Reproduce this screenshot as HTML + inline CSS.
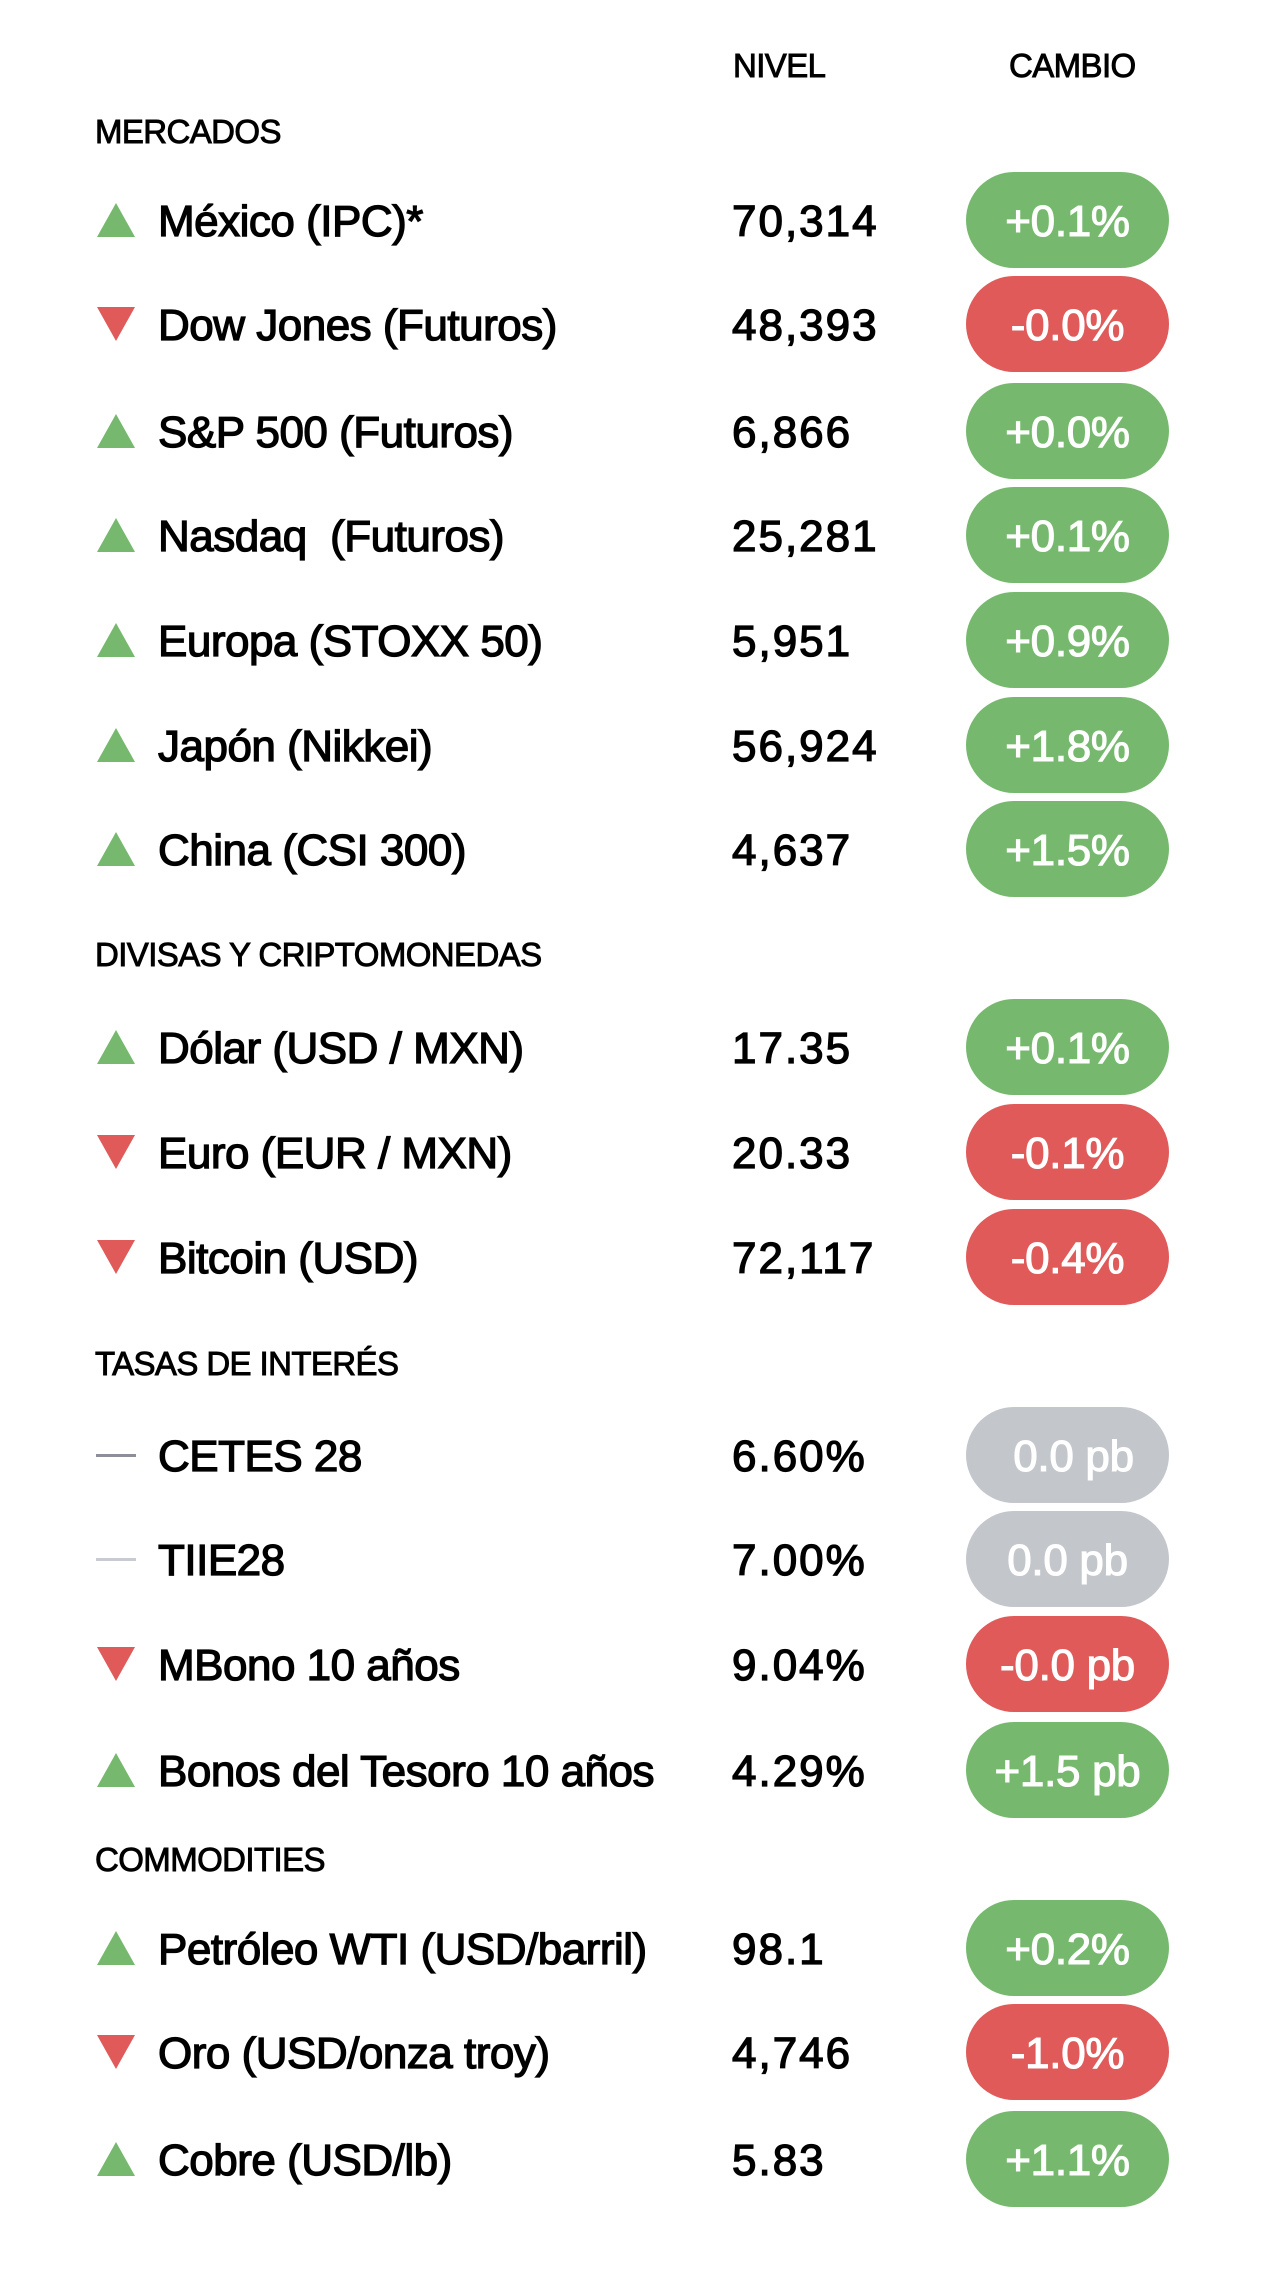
<!DOCTYPE html>
<html><head><meta charset="utf-8"><style>
body{margin:0;width:1280px;height:2281px;background:#fff;position:relative;font-family:"Liberation Sans",sans-serif;color:#000;overflow:hidden}
.t{position:absolute;white-space:nowrap;line-height:1}
.h{font-size:33px;letter-spacing:-0.6px;-webkit-text-stroke:0.9px #000}
.n{font-size:44px;left:158px;letter-spacing:-0.5px;-webkit-text-stroke:1.3px #000}
.v{font-size:44px;left:732px;letter-spacing:2px;-webkit-text-stroke:1.3px #000}
.p{position:absolute;left:966px;width:203px;height:96px;border-radius:48px;color:#fff;font-size:44px;line-height:100px;text-align:center;letter-spacing:-0.3px;-webkit-text-stroke:1.1px #fff}
.g{background:#76b96e}.r{background:#e05a5a}.y{background:#c3c7cc}
.up,.dn{position:absolute;left:97px;width:0;height:0;border-left:19px solid transparent;border-right:19px solid transparent}
.up{border-bottom:34px solid #76b96e}.dn{border-top:34px solid #e05a5a}
.d{position:absolute;left:96px;width:40px;height:3px}
</style></head><body>
<div class="t h" style="left:733px;top:49px">NIVEL</div>
<div class="t h" style="left:1009px;top:49px">CAMBIO</div>
<div class="t h" style="left:95px;top:115px">MERCADOS</div>
<div class="t h" style="left:95px;top:938px">DIVISAS Y CRIPTOMONEDAS</div>
<div class="t h" style="left:95px;top:1347px">TASAS DE INTERÉS</div>
<div class="t h" style="left:95px;top:1843px">COMMODITIES</div>

<div class="up" style="top:203px"></div><div class="t n" style="top:200px">México (IPC)*</div><div class="t v" style="top:200px">70,314</div><div class="p g" style="top:172px">+0.1%</div>
<div class="dn" style="top:307px"></div><div class="t n" style="top:304px">Dow Jones (Futuros)</div><div class="t v" style="top:304px">48,393</div><div class="p r" style="top:276px">-0.0%</div>
<div class="up" style="top:414px"></div><div class="t n" style="top:411px">S&amp;P 500 (Futuros)</div><div class="t v" style="top:411px">6,866</div><div class="p g" style="top:383px">+0.0%</div>
<div class="up" style="top:518px"></div><div class="t n" style="top:515px">Nasdaq&nbsp; (Futuros)</div><div class="t v" style="top:515px">25,281</div><div class="p g" style="top:487px">+0.1%</div>
<div class="up" style="top:623px"></div><div class="t n" style="top:620px">Europa (STOXX 50)</div><div class="t v" style="top:620px">5,951</div><div class="p g" style="top:592px">+0.9%</div>
<div class="up" style="top:728px"></div><div class="t n" style="top:725px">Japón (Nikkei)</div><div class="t v" style="top:725px">56,924</div><div class="p g" style="top:697px">+1.8%</div>
<div class="up" style="top:832px"></div><div class="t n" style="top:829px">China (CSI 300)</div><div class="t v" style="top:829px">4,637</div><div class="p g" style="top:801px">+1.5%</div>

<div class="up" style="top:1030px"></div><div class="t n" style="top:1027px">Dólar (USD / MXN)</div><div class="t v" style="top:1027px">17.35</div><div class="p g" style="top:999px">+0.1%</div>
<div class="dn" style="top:1135px"></div><div class="t n" style="top:1132px">Euro (EUR / MXN)</div><div class="t v" style="top:1132px">20.33</div><div class="p r" style="top:1104px">-0.1%</div>
<div class="dn" style="top:1240px"></div><div class="t n" style="top:1237px">Bitcoin (USD)</div><div class="t v" style="top:1237px">72,117</div><div class="p r" style="top:1209px">-0.4%</div>

<div class="d" style="top:1454px;background:#8a8f99"></div><div class="t n" style="top:1435px">CETES 28</div><div class="t v" style="top:1435px">6.60%</div><div class="p y" style="top:1407px;padding-left:12px;box-sizing:border-box">0.0 pb</div>
<div class="d" style="top:1558px;background:#c8ccd2"></div><div class="t n" style="top:1539px">TIIE28</div><div class="t v" style="top:1539px">7.00%</div><div class="p y" style="top:1511px">0.0 pb</div>
<div class="dn" style="top:1647px"></div><div class="t n" style="top:1644px">MBono 10 años</div><div class="t v" style="top:1644px">9.04%</div><div class="p r" style="top:1616px">-0.0 pb</div>
<div class="up" style="top:1753px"></div><div class="t n" style="top:1750px">Bonos del Tesoro 10 años</div><div class="t v" style="top:1750px">4.29%</div><div class="p g" style="top:1722px">+1.5 pb</div>

<div class="up" style="top:1931px"></div><div class="t n" style="top:1928px">Petróleo WTI (USD/barril)</div><div class="t v" style="top:1928px">98.1</div><div class="p g" style="top:1900px">+0.2%</div>
<div class="dn" style="top:2035px"></div><div class="t n" style="top:2032px">Oro (USD/onza troy)</div><div class="t v" style="top:2032px">4,746</div><div class="p r" style="top:2004px">-1.0%</div>
<div class="up" style="top:2142px"></div><div class="t n" style="top:2139px">Cobre (USD/lb)</div><div class="t v" style="top:2139px">5.83</div><div class="p g" style="top:2111px">+1.1%</div>
</body></html>
